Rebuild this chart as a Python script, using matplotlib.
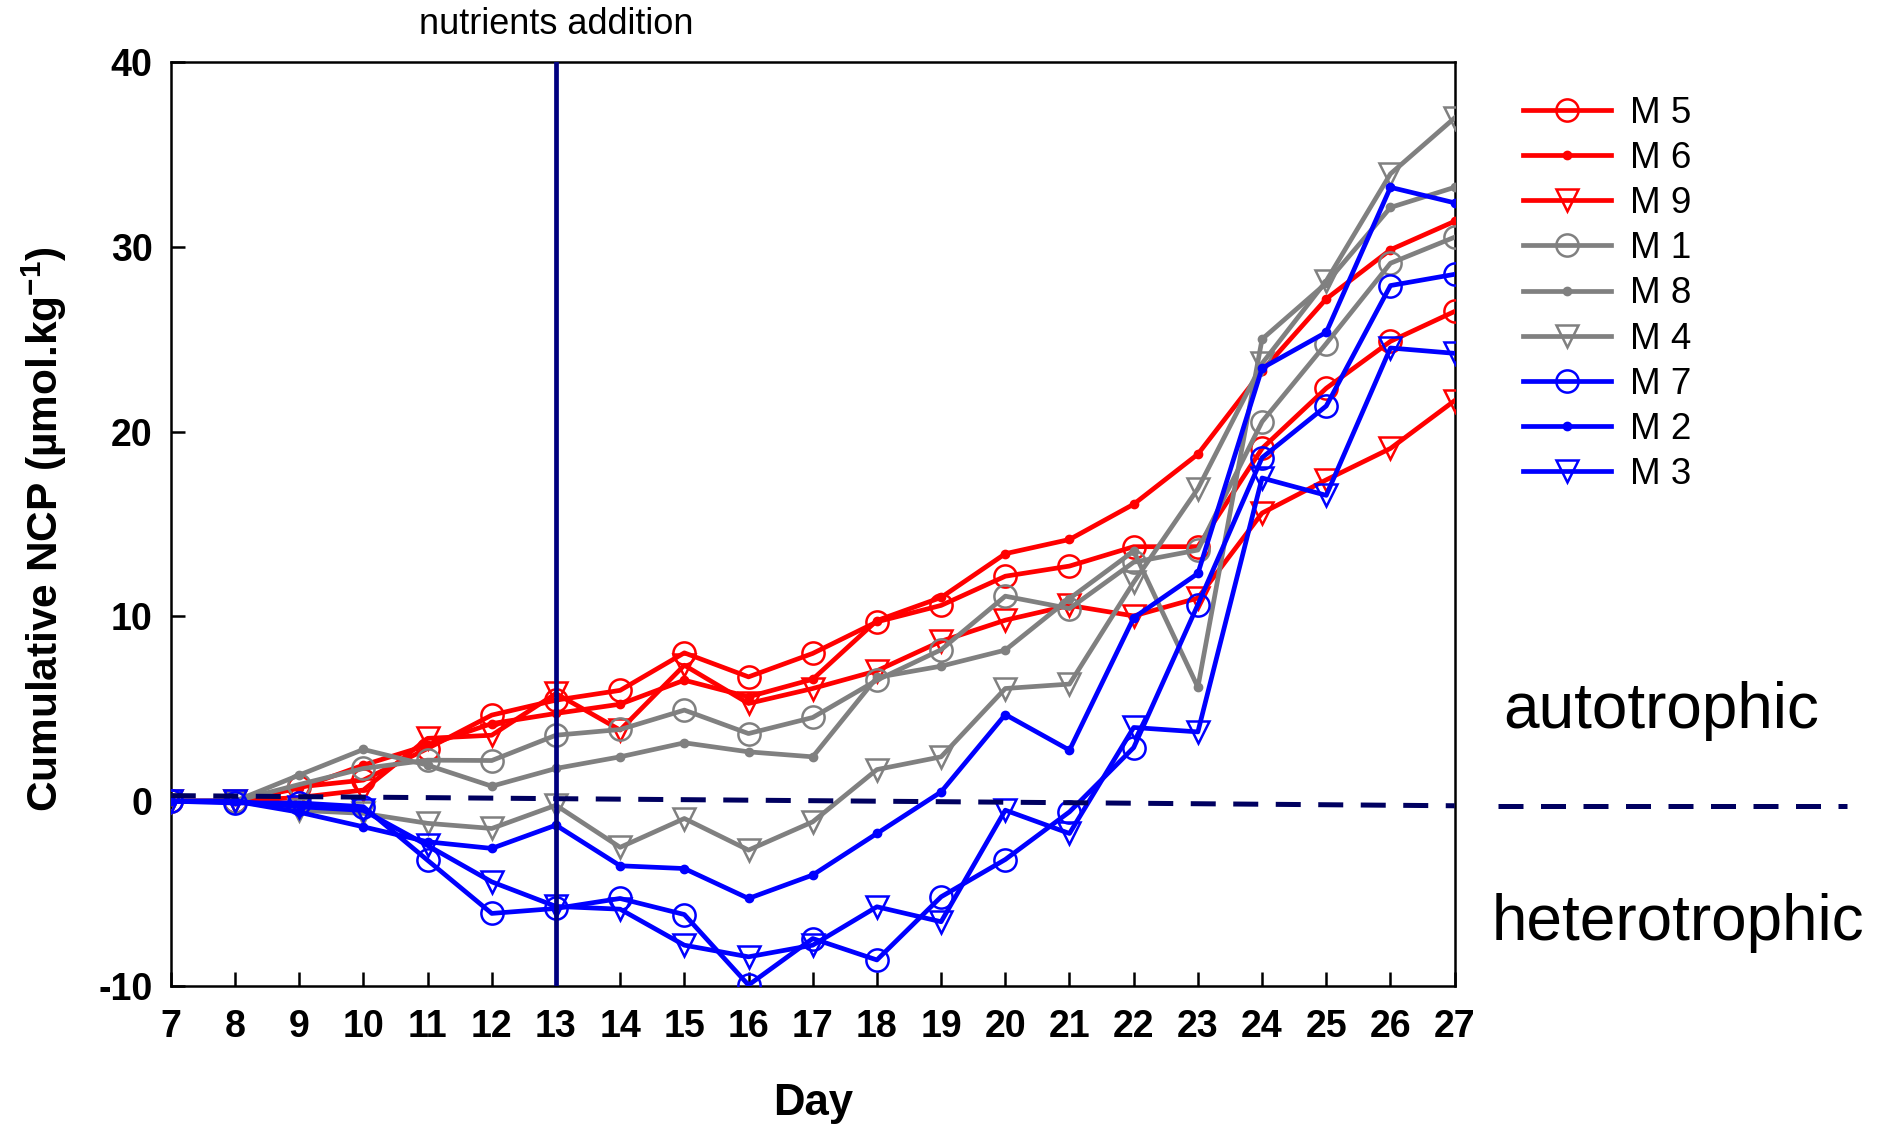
import matplotlib
matplotlib.use("Agg")
import matplotlib.pyplot as plt
from matplotlib.transforms import blended_transform_factory
from matplotlib.lines import Line2D

# ---------------- data ----------------
days = list(range(7, 28))

M5 = [0, 0, 0.77, 1.14, 2.85, 4.66, 5.47, 6.0, 8.03, 6.73, 8.0, 9.71, 10.6, 12.18, 12.73, 13.78, 13.78, 19.1, 22.36, 24.9, 26.52]
M6 = [0, 0, 0.7, 1.95, 3.03, 4.2, 4.75, 5.25, 6.55, 5.65, 6.6, 9.78, 11.03, 13.4, 14.17, 16.08, 18.79, 23.3, 27.2, 29.86, 31.4]
M9 = [0, 0, 0.2, 0.6, 3.4, 3.57, 5.83, 3.85, 7.36, 5.29, 6.1, 7.06, 8.66, 9.8, 10.6, 10.03, 11.0, 15.6, 17.4, 19.1, 21.69]
M1 = [0, 0, 0.9, 1.77, 2.22, 2.2, 3.57, 3.88, 4.93, 3.66, 4.53, 6.55, 8.2, 11.1, 10.43, 12.94, 13.6, 20.55, 24.78, 29.13, 30.54]
M8 = [0, 0, 1.41, 2.8, 1.95, 0.81, 1.77, 2.4, 3.16, 2.67, 2.4, 6.7, 7.31, 8.18, 10.97, 13.54, 6.17, 25.02, 28.05, 32.15, 33.24]
M4 = [0, 0, -0.5, -0.66, -1.2, -1.48, -0.22, -2.5, -0.94, -2.65, -1.12, 1.71, 2.4, 6.1, 6.34, 11.85, 16.92, 23.7, 28.17, 33.97, 37.0]
M7 = [0, -0.1, -0.1, -0.3, -3.2, -6.08, -5.81, -5.27, -6.14, -9.96, -7.44, -8.6, -5.18, -3.16, -0.58, 2.9, 10.64, 18.6, 21.4, 27.92, 28.53]
M2 = [0, 0, -0.6, -1.39, -2.2, -2.56, -1.3, -3.5, -3.65, -5.27, -4.0, -1.75, 0.5, 4.69, 2.76, 9.93, 12.33, 23.45, 25.39, 33.24, 32.4]
M3 = [0, 0, -0.3, -0.5, -2.4, -4.37, -5.7, -5.85, -7.8, -8.43, -7.8, -5.72, -6.53, -0.49, -1.75, 3.99, 3.75, 17.5, 16.56, 24.54, 24.25]

labels = ["M 5", "M 6", "M 9", "M 1", "M 8", "M 4", "M 7", "M 2", "M 3"]
values = [M5, M6, M9, M1, M8, M4, M7, M2, M3]
colors = ["#FF0000", "#FF0000", "#FF0000", "#808080", "#808080", "#808080", "#0000FF", "#0000FF", "#0000FF"]
markers = ["o", "o", "v", "o", "o", "v", "o", "o", "v"]
filled = [False, True, False, False, True, False, False, True, False]

addition_day = 13
balance_x = [7, 27]
balance_y = [0.3, -0.25]

yticks = [-10, 0, 10, 20, 30, 40]

# ---------------- style ----------------
plt.rcParams["font.family"] = ["Liberation Sans", "DejaVu Sans"]
plt.rcParams["mathtext.fontset"] = "custom"
plt.rcParams["mathtext.rm"] = "Liberation Sans"
plt.rcParams["mathtext.bf"] = "Liberation Sans:bold"
plt.rcParams["axes.unicode_minus"] = False

fig = plt.figure(figsize=(18.85, 11.30), dpi=100)
ax = fig.add_axes([0.0906, 0.1276, 0.6811, 0.8171])

for lab, vals, c, m, f in zip(labels, values, colors, markers, filled):
    if f:
        ax.plot(days, vals, color=c, lw=3.4, marker="o", ms=6, mfc=c, mec=c,
                label=lab, zorder=3)
    else:
        ax.plot(days, vals, color=c, lw=3.4, marker=m, ms=16, mfc="none", mec=c,
                mew=1.8, label=lab, zorder=3)

# nutrient addition line
ax.axvline(addition_day, color="#000080", lw=3.4, zorder=5)
# autotrophic / heterotrophic boundary
bl, = ax.plot(balance_x, balance_y, color="#000060", lw=3.6, zorder=4)
bl.set_dashes([5.0, 3.5])

ax.set_xlim(7, 27)
ax.set_ylim(-10, 40)
ax.set_xticks(days)
ax.set_yticks(yticks)
ax.tick_params(axis="both", direction="in", length=10, width=1.8,
               labelsize=27, top=False, right=False)
ax.tick_params(axis="x", pad=17)
ax.tick_params(axis="y", pad=13)
for t in ax.get_xticklabels() + ax.get_yticklabels():
    t.set_fontweight("bold")
for s in ax.spines.values():
    s.set_linewidth(1.8)

ax.set_xlabel("Day", fontsize=31.5, fontweight="bold", va="center")
ax.xaxis.set_label_coords(0.5, -0.127)
ax.set_ylabel("Cumulative NCP (µmol.kg$^{\\mathbf{-1}}$)", fontsize=30.5,
              fontweight="bold", va="center")
ax.yaxis.set_label_coords(-0.0987, 0.495)

trans = blended_transform_factory(ax.transData, ax.transAxes)
ax.text(addition_day, 1.041, "nutrients addition", transform=trans,
        ha="center", va="center", fontsize=26, clip_on=False)

leg = ax.legend(loc="upper left", bbox_to_anchor=(1523 / 1885, 1 - 96 / 1130),
                bbox_transform=fig.transFigure, frameon=False, fontsize=26.5,
                handlelength=2.4, handletextpad=0.5, labelspacing=0.275,
                borderpad=0, borderaxespad=0, numpoints=1)

# right-side annotation
fig.add_artist(Line2D([1498 / 1885, 1847 / 1885], [1 - 805.5 / 1130] * 2,
                      color="#000060", lw=3.6, dashes=[5.0, 3.5]))
fig.text(1661 / 1885, 1 - 728 / 1130, "autotrophic", ha="center",
         va="baseline", fontsize=46)
fig.text(1678 / 1885, 1 - 940 / 1130, "heterotrophic", ha="center",
         va="baseline", fontsize=46)

fig.savefig("out.png", dpi=100)
